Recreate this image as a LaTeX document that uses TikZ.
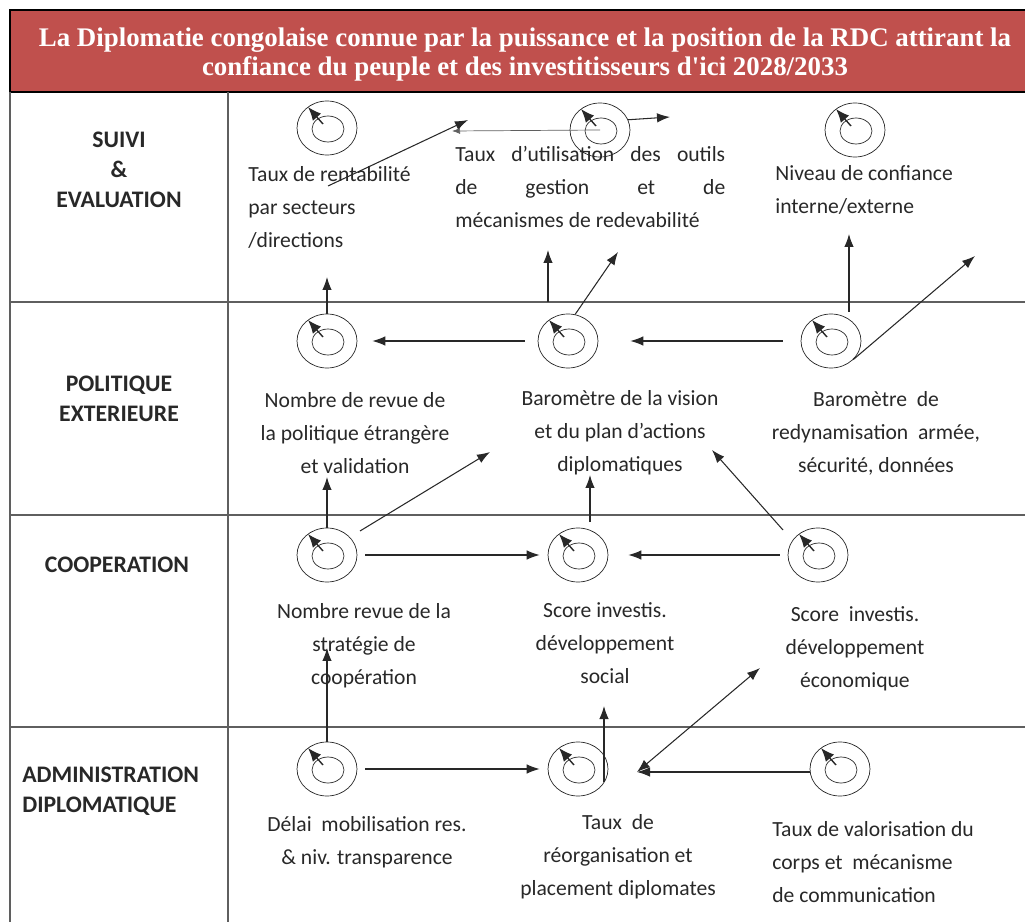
\documentclass[tikz,border=0pt]{standalone}
\usepackage{fontspec}
\setmainfont{Carlito}
\newfontfamily\titrefont{Liberation Serif}
\usetikzlibrary{arrows.meta,shapes.geometric}

\definecolor{bandeau}{RGB}{192,80,77}
\definecolor{encre}{RGB}{40,40,40}
\definecolor{trait}{RGB}{95,95,95}

\tikzset{
  jaugeout/.style={draw=encre, ellipse, minimum width=1.2cm, minimum height=1.08cm, inner sep=0pt},
  jaugein/.style={draw=encre, ellipse, minimum width=0.64cm, minimum height=0.52cm, inner sep=0pt},
  aiguille/.style={-{Latex[length=2.7mm,width=2.2mm]}, encre, line width=0.8pt},
  lien/.style={-{Latex[length=2.6mm,width=1.9mm]}, encre, line width=0.6pt},
  indic/.style={text=encre, font=\fontsize{12.3}{18.8}\selectfont, align=center, inner sep=0pt},
  indicg/.style={indic, align=left},
  axe/.style={text=encre, font=\bfseries\fontsize{13.5}{17}\selectfont, align=center, inner sep=0pt},
}

% jauge : nom, x, y (en pixels)
\newcommand{\jauge}[3]{%
  \node[jaugeout] (#1) at (#2,#3) {};
  \node[jaugein] (#1i) at (#2+1,#3+1) {};
  \draw[aiguille] (#1.center) ++(-4,-4) -- ++(-15,-17);
}

\begin{document}
\begin{tikzpicture}[x=0.02cm, y=-0.02cm]
\useasboundingbox (0,0) rectangle (1025,922);

% bandeau du titre
\draw[fill=bandeau, line width=1.2pt] (10,10) rectangle (1040,92);
\node[text=white, font=\titrefont\bfseries\fontsize{15.3}{16.5}\selectfont, align=center] (titre) at (525,55)
  {La Diplomatie congolaise connue par la puissance et la position de la RDC attirant la\\
   confiance du peuple et des investitisseurs d'ici 2028/2033};

% grille
\draw[trait, line width=0.6pt] (10,92) -- (10,930);
\draw[trait, line width=0.6pt] (228,92) -- (228,930);
\foreach \y in {302,515,727}
  \draw[trait, line width=0.6pt] (10,\y) -- (1040,\y);

% axes
\node[axe] (ax1) at (119,170) {SUIVI\\\&\\EVALUATION};
\node[axe] (ax2) at (119,399) {POLITIQUE\\EXTERIEURE};
\node[axe] (ax3) at (117,565) {COOPERATION};
\node[axe, align=left, anchor=west] (ax4) at (22,791) {ADMINISTRATION\\DIPLOMATIQUE};

% jauges
\jauge{s1}{327}{128}
\jauge{s2}{600}{130}
\jauge{s3}{855}{130}
\jauge{p1}{327}{341}
\jauge{p2}{568}{341}
\jauge{p3}{831}{341}
\jauge{c1}{327}{555}
\jauge{c2}{578}{555}
\jauge{c3}{818}{555}
\jauge{a1}{327}{769}
\jauge{a2}{578}{769}
\jauge{a3}{840}{769}

% indicateurs
\node[indicg, anchor=west] (t11) at (248,207) {Taux de rentabilité\\par secteurs\\/directions};
\node[indicg, anchor=west] (t12) at (455,187)
  {\hbox to 5.4cm{Taux\hfill d'utilisation\hfill des\hfill outils}\\
   \hbox to 5.4cm{de\hfill gestion\hfill et\hfill de}\\
   mécanismes de redevabilité};
\node[indicg, anchor=west] (t13) at (775,190) {Niveau de confiance\\interne/externe};
\node[indic] (t21) at (355,433) {Nombre de revue de\\la politique étrangère\\et validation};
\node[indic] (t22) at (620,433) {Baromètre de la vision\\et du plan d'actions\\diplomatiques};
\node[indic] (t23) at (876,433) {Baromètre~ de\\redynamisation~ armée,\\sécurité, données};
\node[indic] (t31) at (364,646) {Nombre revue de la\\stratégie de\\coopération};
\node[indic] (t32) at (605,643) {Score investis.\\développement\\social};
\node[indic] (t33) at (855,649) {Score~ investis.\\développement\\économique};
\node[indic] (t41) at (367,842) {Délai~ mobilisation res.\\\& niv. transparence};
\node[indic] (t42) at (618,857) {Taux~ de\\réorganisation et\\placement diplomates};
\node[indicg, anchor=west] (t43) at (772,862) {Taux de valorisation du\\corps et~ mécanisme\\de communication};

% extremites libres
\coordinate (r1a) at (328,186);
\coordinate (r1b) at (468,120);
\coordinate (r2b) at (452,131);
\coordinate (r3b) at (670,117);
\coordinate (q1b) at (327,277);
\coordinate (q2a) at (548,302);
\coordinate (q2b) at (548,250);
\coordinate (q3b) at (618,252);
\coordinate (q4a) at (849,312);
\coordinate (q4b) at (849,234);
\coordinate (q5b) at (975,256);
\coordinate (k1b) at (327,477);
\coordinate (k2a) at (360,531);
\coordinate (k2b) at (490,452);
\coordinate (k3a) at (590,522);
\coordinate (k3b) at (590,475);
\coordinate (k4a) at (783,530);
\coordinate (k4b) at (712,450);
\coordinate (m1b) at (327,648);
\coordinate (m2a) at (604,782);
\coordinate (m2b) at (604,706);
\coordinate (m3a) at (637,772);
\coordinate (m3b) at (760,668);

% suivi & evaluation
\draw[lien] (r1a) -- (r1b);
\draw[-{Latex[length=1.6mm,width=1.2mm]}, trait, line width=0.4pt] (s2.center) -- (r2b);
\draw[lien] (s2.20) -- (r3b);
% politique exterieure
\draw[lien] (p1.north) -- (q1b);
\draw[lien] (q2a) -- (q2b);
\draw[lien] (p2.75) -- (q3b);
\draw[lien] (q4a) -- (q4b);
\draw[lien] (p3.-40) -- (q5b);
\draw[lien] ([xshift=-0.26cm]p2.west) -- ([xshift=0.3cm]p1.east);
\draw[lien] ([xshift=-0.36cm]p3.west) -- ([xshift=0.64cm]p2.east);
% cooperation
\draw[lien] (c1.north) -- (k1b);
\draw[lien] (k2a) -- (k2b);
\draw[lien] (k3a) -- (k3b);
\draw[lien] (k4a) -- (k4b);
\draw[lien] ([xshift=0.16cm]c1.east) -- ([xshift=-0.16cm]c2.west);
\draw[lien] ([xshift=-0.16cm]c3.west) -- ([xshift=0.4cm]c2.east);
% administration diplomatique
\draw[lien] (a1.north) -- (m1b);
\draw[lien] (m2a) -- (m2b);
\draw[{Latex[length=2.6mm,width=1.9mm]}-{Latex[length=2.6mm,width=1.9mm]}, encre, line width=0.6pt] (m3a) -- (m3b);
\draw[lien] (a3.west |- m3a) -- (m3a);
\draw[lien] ([xshift=0.16cm]a1.east) -- ([xshift=-0.16cm]a2.west);

\end{tikzpicture}
\end{document}
